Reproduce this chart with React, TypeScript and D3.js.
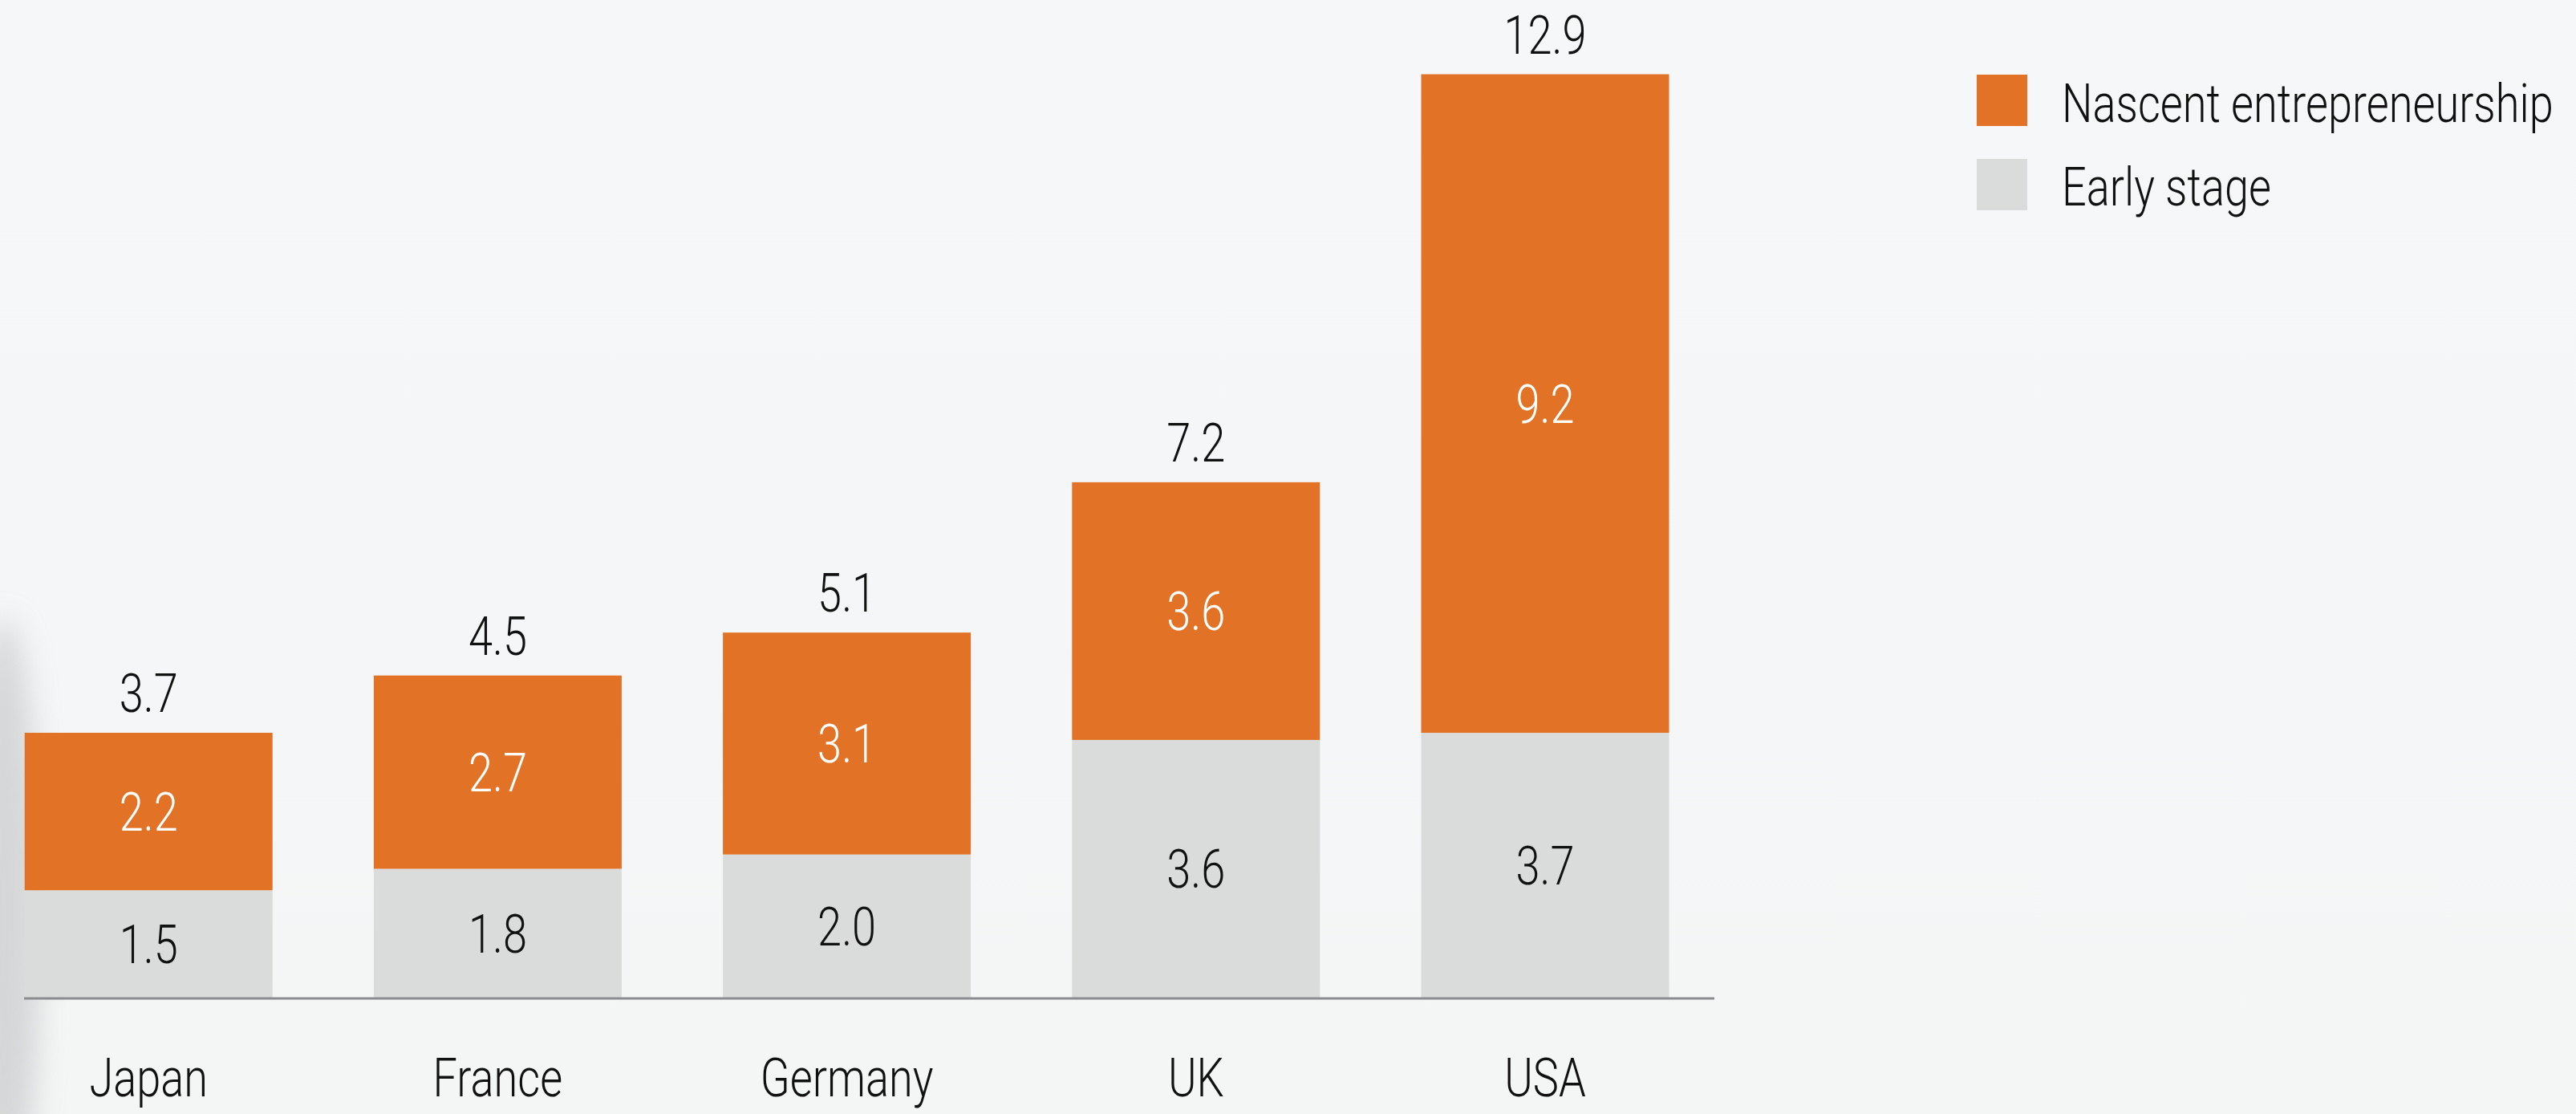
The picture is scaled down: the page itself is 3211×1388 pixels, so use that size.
import React from "react";
import * as d3 from "d3";

const countries = ["Japan", "France", "Germany", "UK", "USA"];
const earlyStage = [1.5, 1.8, 2.0, 3.6, 3.7];
const nascent = [2.2, 2.7, 3.1, 3.6, 9.2];
const totals = [3.7, 4.5, 5.1, 7.2, 12.9];
const seriesNames = ["Nascent entrepreneurship", "Early stage"];
const seriesColors = ["#E27226", "#DADBDB"];

const W = 3211;
const H = 1388;
const FONT = "Roboto, 'Liberation Sans', sans-serif";
const SX = 0.82;

function T(props: { x: number; y: number; anchor?: string; fill?: string; size?: number; children: any }) {
  const { x, y, anchor = "middle", fill = "#111", size = 66, children } = props;
  return (
    <text
      transform={`translate(${x},${y}) scale(${SX},1)`}
      textAnchor={anchor}
      fontSize={size}
      fontWeight={300}
      fill={fill}
    >
      {children}
    </text>
  );
}

export default function App() {
  const baseline = 1243;
  const step = 435.2;
  const bw = 309;
  const x0 = 30.7;
  const x = d3
    .scaleBand<string>()
    .domain(countries)
    .range([x0, x0 + step * countries.length - (step - bw)])
    .paddingInner((step - bw) / step)
    .paddingOuter(0);
  const y = d3.scaleLinear().domain([0, 12.9]).range([baseline, 92.5]);

  const rows = countries.map((c, i) => ({ c, early: earlyStage[i], nasc: nascent[i], total: totals[i] }));
  const stack = d3.stack<any>().keys(["early", "nasc"])(rows as any);

  const half = 24;
  const cx = (c: string) => (x(c) as number) + x.bandwidth() / 2;

  return (
    <svg
      width={W}
      height={H}
      style={{ position: "absolute", left: 0, top: 0, display: "block" }}
      fontFamily={FONT}
    >
      <defs>
        <linearGradient id="bg" x1="0" y1="0" x2="0" y2="1">
          <stop offset="0" stopColor="#F6F7F9" />
          <stop offset="1" stopColor="#F4F5F5" />
        </linearGradient>
        <filter id="blur" x="-100%" y="-50%" width="300%" height="200%">
          <feGaussianBlur stdDeviation="18" />
        </filter>
      </defs>
      <rect x={0} y={0} width={W} height={H} fill="url(#bg)" />
      <ellipse cx={5} cy={1150} rx={45} ry={380} fill="#C8C9CA" opacity={0.7} filter="url(#blur)" />

      {stack.map((layer, li) => (
        <g key={li}>
          {layer.map((d: any, i: number) => (
            <rect
              key={i}
              x={x(countries[i])}
              y={y(d[1])}
              width={x.bandwidth()}
              height={y(d[0]) - y(d[1])}
              fill={li === 0 ? seriesColors[1] : seriesColors[0]}
            />
          ))}
        </g>
      ))}

      {stack.map((layer, li) =>
        layer.map((d: any, i: number) => (
          <T
            key={`v${li}-${i}`}
            x={cx(countries[i])}
            y={(y(d[0]) + y(d[1])) / 2 + half}
            fill={li === 0 ? "#111" : "#fff"}
          >
            {(li === 0 ? earlyStage[i] : nascent[i]).toFixed(1)}
          </T>
        ))
      )}

      {rows.map((r, i) => (
        <T key={`t${i}`} x={cx(r.c)} y={y(r.total) - 26}>
          {r.total.toFixed(1)}
        </T>
      ))}

      <line x1={30} x2={2137} y1={baseline + 1} y2={baseline + 1} stroke="#8A8C8E" strokeWidth={3} />

      {countries.map((c, i) => (
        <T key={`c${i}`} x={cx(c)} y={1366}>
          {c}
        </T>
      ))}

      {seriesNames.map((s, i) => (
        <g key={s}>
          <rect x={2464} y={93 + i * 105} width={63} height={64} fill={seriesColors[i]} />
          <T x={2570} y={152 + i * 104} anchor="start">
            {s}
          </T>
        </g>
      ))}
    </svg>
  );
}
